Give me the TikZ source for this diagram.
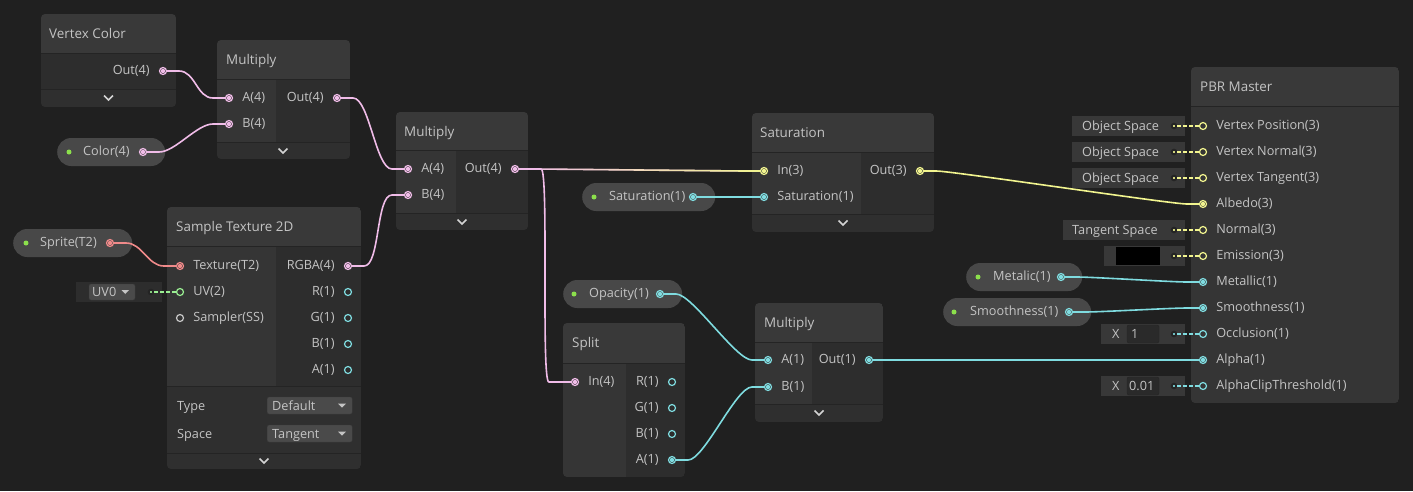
\documentclass[tikz,border=0pt]{standalone}
\usepackage{fontspec}
\setmainfont{Open Sans}
\usetikzlibrary{positioning,fadings}
\definecolor{bg}{HTML}{202020}
\definecolor{hdr}{HTML}{393939}
\definecolor{incol}{HTML}{353535}
\definecolor{outcol}{HTML}{2D2D2D}
\definecolor{foot}{HTML}{2F2F2F}
\definecolor{sepc}{HTML}{242424}
\definecolor{pillc}{HTML}{484848}
\definecolor{boxc}{HTML}{383838}
\definecolor{dropc}{HTML}{4A4A4A}
\definecolor{fieldc}{HTML}{2A2A2A}
\definecolor{txt}{HTML}{C4C4C4}
\definecolor{chevc}{HTML}{D4D4D4}
\definecolor{pinkW}{HTML}{F0BCE8}
\definecolor{yellowW}{HTML}{F2F58F}
\definecolor{cyanW}{HTML}{7FDCE0}
\definecolor{salW}{HTML}{F08A8A}
\definecolor{greenW}{HTML}{9AEF92}
\definecolor{grayW}{HTML}{C8C8C8}
\definecolor{propdot}{HTML}{8CE04C}
\tikzfading[name=fadein, left color=transparent!100, right color=transparent!0]

\begin{document}
\begin{tikzpicture}[x=1pt,y=-1pt,
  hdrtext/.style={text=txt,font=\fontsize{13.4}{16}\selectfont,inner sep=0pt,anchor=base west},
  lbl/.style={text=txt,font=\fontsize{12.7}{15}\selectfont,inner sep=0pt},
  label distance=9pt,
  port/.style={circle,draw=#1,line width=1.2pt,inner sep=0pt,minimum size=7pt},
  cport/.style={port=#1,path picture={\fill[#1] (path picture bounding box.center) circle (2.2pt);}},
  pill/.style={fill=pillc,rounded corners=14pt,inner sep=0pt,minimum height=28pt,anchor=west},
  pdot/.style={circle,fill=propdot,inner sep=0pt,minimum size=5pt},
  wire/.style={line width=1.6pt,to path={-- ++(12,0) .. controls +(16,0) and +(-16,0) .. ([xshift=-12pt]\tikztotarget) -- (\tikztotarget)}},
  vwire/.style={line width=1.6pt,to path={-- ++(22,0) .. controls +(8,0) and +(-8,0) .. ([xshift=-22pt]\tikztotarget) -- (\tikztotarget)}},
  chev/.style={draw=chevc,line width=1.5pt},
  divider/.style={draw=sepc,line width=1pt},
  vbox/.style={fill=boxc,inner sep=0pt,minimum height=20pt,anchor=west},
  vdot/.style={circle,fill=#1,draw=sepc,line width=2pt,inner sep=0pt,minimum size=4.5pt},
  vlink/.style={draw=#1,line width=1.2pt,dash pattern=on 4pt off 2pt},
  dropbox/.style={fill=dropc,draw=dropc!80!black,rounded corners=2pt,inner sep=0pt},
  fieldbox/.style={fill=fieldc,draw=sepc,rounded corners=2pt,inner sep=0pt,minimum width=32pt,minimum height=18pt},
]
\fill[bg] (0,0) rectangle (1413,491);
\useasboundingbox (0,0) rectangle (1413,491);

% Vertex Color
\begin{scope}
\clip[rounded corners=4pt] (41,14) rectangle (176,107);
\fill[hdr] (41,14) rectangle (176,53);
\fill[outcol] (41,53) rectangle (176,89);
\fill[foot] (41,89) rectangle (176,107);
\draw[divider] (41,53) -- (176,53) (41,89) -- (176,89);
\end{scope}
\node[hdrtext] (vctitle) at (49,38.5) {Vertex Color};
\node[cport=pinkW,label={[lbl]left:Out(4)}] (vcout) at (163,71) {};
\draw[chev] (104,95.5) -- (108.5,100) -- (113,95.5);

% Multiply 1
\begin{scope}
\clip[rounded corners=4pt] (217,40) rectangle (350,159);
\fill[hdr] (217,40) rectangle (350,79);
\fill[incol] (217,79) rectangle (276,142);
\fill[outcol] (276,79) rectangle (350,142);
\fill[foot] (217,142) rectangle (350,159);
\draw[divider] (217,79) -- (350,79) (217,142) -- (350,142);
\end{scope}
\node[hdrtext] (m1title) at (226,64.5) {Multiply};
\node[cport=pinkW,label={[lbl]right:A(4)}] (m1a) at (229,98) {};
\node[cport=pinkW,label={[lbl]right:B(4)}] (m1b) at (229,124) {};
\node[cport=pinkW,label={[lbl]left:Out(4)}] (m1out) at (337,98) {};
\draw[chev] (278.5,148.5) -- (283,153) -- (287.5,148.5);

% Color property
\node[pill,minimum width=108pt] (colorpill) at (57,152) {};
\node[pdot] (colordot) at (69,152) {};
\node[lbl,anchor=west] (colortxt) at (83,152) {Color(4)};
\node[cport=pinkW] (colorp) at (143,152) {};

% Multiply 2
\begin{scope}
\clip[rounded corners=4pt] (396,112) rectangle (528,230);
\fill[hdr] (396,112) rectangle (528,150);
\fill[incol] (396,150) rectangle (456,213);
\fill[outcol] (456,150) rectangle (528,213);
\fill[foot] (396,213) rectangle (528,230);
\draw[divider] (396,150) -- (528,150) (396,213) -- (528,213);
\end{scope}
\node[hdrtext] (m2title) at (404,136.5) {Multiply};
\node[cport=pinkW,label={[lbl]right:A(4)}] (m2a) at (408,169) {};
\node[cport=pinkW,label={[lbl]right:B(4)}] (m2b) at (408,195) {};
\node[cport=pinkW,label={[lbl]left:Out(4)}] (m2out) at (515,169) {};
\draw[chev] (457.5,219.5) -- (462,224) -- (466.5,219.5);

% Sample Texture 2D
\begin{scope}
\clip[rounded corners=4pt] (167,207) rectangle (361,469);
\fill[hdr] (167,207) rectangle (361,246);
\fill[incol] (167,246) rectangle (276,386);
\fill[outcol] (276,246) rectangle (361,386);
\fill[foot] (167,386) rectangle (361,469);
\draw[divider] (167,246) -- (361,246) (167,386) -- (361,386) (167,453) -- (361,453);
\end{scope}
\node[hdrtext] (sttitle) at (176,231.5) {Sample Texture 2D};
\node[cport=salW,label={[lbl]right:Texture(T2)}] (sttex) at (180,266) {};
\node[port=greenW,label={[lbl]right:UV(2)}] (stuv) at (180,292) {};
\node[port=grayW,label={[lbl]right:Sampler(SS)}] (stss) at (180,318) {};
\node[cport=pinkW,label={[lbl]left:RGBA(4)}] (strgba) at (348,266) {};
\node[port=cyanW,label={[lbl]left:R(1)}] (str) at (348,292) {};
\node[port=cyanW,label={[lbl]left:G(1)}] (stg) at (348,318) {};
\node[port=cyanW,label={[lbl]left:B(1)}] (stb) at (348,344) {};
\node[port=cyanW,label={[lbl]left:A(1)}] (sta) at (348,370) {};
\node[lbl,anchor=base west] (sttype) at (177,410) {Type};
\node[dropbox,minimum width=85pt,minimum height=17pt,anchor=west] (sttypedd) at (267,405.5) {};
\node[lbl,anchor=base west] (sttypeval) at (272,410) {Default};
\fill[txt] (338,403.5) -- (346,403.5) -- (342,407.5) -- cycle;
\node[lbl,anchor=base west] (stspace) at (177,438) {Space};
\node[dropbox,minimum width=85pt,minimum height=17pt,anchor=west] (stspacedd) at (267,433.5) {};
\node[lbl,anchor=base west] (stspaceval) at (272,438) {Tangent};
\fill[txt] (338,431.5) -- (346,431.5) -- (342,435.5) -- cycle;
\draw[chev] (259.5,458.5) -- (264,463) -- (268.5,458.5);

% Sprite property and UV default
\node[pill,minimum width=119pt] (spritepill) at (13,243) {};
\node[pdot] (spritedot) at (26,243) {};
\node[lbl,anchor=west] (spritetxt) at (40,243) {Sprite(T2)};
\node[cport=salW] (spritep) at (110,243) {};
\node[fill=outcol,inner sep=0pt,minimum width=86pt,minimum height=20pt,anchor=west] (uvbox) at (76,292) {};
\node[dropbox,minimum width=46pt,minimum height=16pt] (uvdd) at (112,292) {};
\node[lbl,anchor=base west] (uvtxt) at (92,296.5) {UV0};
\fill[txt] (121.5,290) -- (129,290) -- (125.25,294) -- cycle;
\node[vdot=greenW] (uvdot) at (151,292) {};

% Saturation
\begin{scope}
\clip[rounded corners=4pt] (752,113) rectangle (934,232);
\fill[hdr] (752,113) rectangle (934,152);
\fill[incol] (752,152) rectangle (861,214);
\fill[outcol] (861,152) rectangle (934,214);
\fill[foot] (752,214) rectangle (934,232);
\draw[divider] (752,152) -- (934,152) (752,214) -- (934,214);
\end{scope}
\node[hdrtext] (sattitle) at (760,137.5) {Saturation};
\node[cport=yellowW,label={[lbl]right:In(3)}] (satin) at (764,171) {};
\node[cport=cyanW,label={[lbl]right:Saturation(1)}] (satsat) at (764,197) {};
\node[cport=yellowW,label={[lbl]left:Out(3)}] (satout) at (920,171) {};
\draw[chev] (838.5,220.5) -- (843,225) -- (847.5,220.5);

% Saturation property
\node[pill,minimum width=133pt] (satpill) at (582,197) {};
\node[pdot] (satdot) at (594,197) {};
\node[lbl,anchor=west] (sattxt) at (609,197) {Saturation(1)};
\node[cport=cyanW] (satp) at (693,197) {};

% Opacity property
\node[pill,minimum width=119pt] (oppill) at (563,294) {};
\node[pdot] (opdot) at (574,294) {};
\node[lbl,anchor=west] (optxt) at (589,294) {Opacity(1)};
\node[cport=cyanW] (opp) at (660,294) {};

% Split
\begin{scope}
\clip[rounded corners=4pt] (563,323) rectangle (685,477);
\fill[hdr] (563,323) rectangle (685,363);
\fill[incol] (563,363) rectangle (626,477);
\fill[outcol] (626,363) rectangle (685,477);
\draw[divider] (563,363) -- (685,363);
\end{scope}
\node[hdrtext] (splittitle) at (572,347.5) {Split};
\node[cport=pinkW,label={[lbl]right:In(4)}] (splitin) at (575,382) {};
\node[port=cyanW,label={[lbl]left:R(1)}] (splitr) at (672,382) {};
\node[port=cyanW,label={[lbl]left:G(1)}] (splitg) at (672,408) {};
\node[port=cyanW,label={[lbl]left:B(1)}] (splitb) at (672,434) {};
\node[cport=cyanW,label={[lbl]left:A(1)}] (splita) at (672,460) {};

% Multiply 3
\begin{scope}
\clip[rounded corners=4pt] (755,303) rectangle (883,422);
\fill[hdr] (755,303) rectangle (883,342);
\fill[incol] (755,342) rectangle (812,404);
\fill[outcol] (812,342) rectangle (883,404);
\fill[foot] (755,404) rectangle (883,422);
\draw[divider] (755,342) -- (883,342) (755,404) -- (883,404);
\end{scope}
\node[hdrtext] (m3title) at (764,327.5) {Multiply};
\node[cport=cyanW,label={[lbl]right:A(1)}] (m3a) at (768,360) {};
\node[cport=cyanW,label={[lbl]right:B(1)}] (m3b) at (768,387) {};
\node[cport=cyanW,label={[lbl]left:Out(1)}] (m3out) at (869,360) {};
\draw[chev] (814.5,410.5) -- (819,415) -- (823.5,410.5);

% PBR Master
\begin{scope}
\clip[rounded corners=4pt] (1191,67) rectangle (1399,403);
\fill[hdr] (1191,67) rectangle (1399,106);
\fill[incol] (1191,106) rectangle (1399,403);
\draw[divider] (1191,106) -- (1399,106);
\end{scope}
\node[hdrtext] (pbrtitle) at (1200,91.5) {PBR Master};
\node[port=yellowW,label={[lbl]right:Vertex Position(3)}] (pbrvp) at (1203,126) {};
\node[port=yellowW,label={[lbl]right:Vertex Normal(3)}] (pbrvn) at (1203,152) {};
\node[port=yellowW,label={[lbl]right:Vertex Tangent(3)}] (pbrvt) at (1203,178) {};
\node[cport=yellowW,label={[lbl]right:Albedo(3)}] (pbralb) at (1203,204) {};
\node[port=yellowW,label={[lbl]right:Normal(3)}] (pbrnrm) at (1203,230) {};
\node[port=yellowW,label={[lbl]right:Emission(3)}] (pbrem) at (1203,256) {};
\node[cport=cyanW,label={[lbl]right:Metallic(1)}] (pbrmet) at (1203,282) {};
\node[cport=cyanW,label={[lbl]right:Smoothness(1)}] (pbrsm) at (1203,308) {};
\node[port=cyanW,label={[lbl]right:Occlusion(1)}] (pbrocc) at (1203,334) {};
\node[cport=cyanW,label={[lbl]right:Alpha(1)}] (pbralpha) at (1203,360) {};
\node[port=cyanW,label={[lbl]right:AlphaClipThreshold(1)}] (pbrclip) at (1203,386) {};

% default values of PBR Master
\node[vbox,minimum width=113pt] (vpbox) at (1072,126) {};
\node[lbl,anchor=base west] (vptxt) at (1082,130.5) {Object Space};
\node[vdot=yellowW] (vpdot) at (1174,126) {};
\node[vbox,minimum width=113pt] (vnbox) at (1072,152) {};
\node[lbl,anchor=base west] (vntxt) at (1082,156.5) {Object Space};
\node[vdot=yellowW] (vndot) at (1174,152) {};
\node[vbox,minimum width=113pt] (vtbox) at (1072,178) {};
\node[lbl,anchor=base west] (vttxt) at (1082,182.5) {Object Space};
\node[vdot=yellowW] (vtdot) at (1174,178) {};
\node[vbox,minimum width=122pt] (nrmbox) at (1063,230) {};
\node[lbl,anchor=base west] (nrmtxt) at (1072,234.5) {Tangent Space};
\node[vdot=yellowW] (nrmdot) at (1174,230) {};
\node[vbox,minimum width=81pt] (embox) at (1104,256) {};
\node[fill=black,inner sep=0pt,minimum width=44pt,minimum height=18pt] (emswatch) at (1138,256) {};
\node[vdot=yellowW] (emdot) at (1174,256) {};
\node[vbox,minimum width=84pt] (occbox) at (1101,334) {};
\node[lbl,anchor=base west] (occx) at (1112,338.5) {X};
\node[fieldbox] (occfield) at (1143,334) {};
\node[lbl,anchor=base west] (occval) at (1131,338.5) {1};
\node[vdot=cyanW] (occdot) at (1174,334) {};
\node[vbox,minimum width=84pt] (clipbox) at (1101,386) {};
\node[lbl,anchor=base west] (clipx) at (1112,390.5) {X};
\node[fieldbox] (clipfield) at (1143,386) {};
\node[lbl,anchor=base west] (clipval) at (1129,390.5) {0.01};
\node[vdot=cyanW] (clipdot) at (1174,386) {};

% Metalic and Smoothness properties
\node[pill,minimum width=116pt] (metpill) at (966,277) {};
\node[pdot] (metdot) at (978,277) {};
\node[lbl,anchor=west] (mettxt) at (993,277) {Metalic(1)};
\node[cport=cyanW] (metp) at (1061,277) {};
\node[pill,minimum width=148pt] (smpill) at (943,312) {};
\node[pdot] (smdot) at (954,312) {};
\node[lbl,anchor=west] (smtxt) at (970,312) {Smoothness(1)};
\node[cport=cyanW] (smp) at (1069,312) {};

% connections
\draw[wire,pinkW] (vcout.east) to (m1a.west);
\draw[wire,pinkW] (colorp.east) to (m1b.west);
\draw[wire,pinkW] (m1out.east) to (m2a.west);
\draw[wire,pinkW] (strgba.east) to (m2b.west);
\draw[wire,salW] (spritep.east) to (sttex.west);
\draw[vlink=greenW] (uvdot) -- (stuv.west);
\draw[wire,pinkW] (m2out.east) to (satin.west);
\draw[wire,yellowW,path fading=fadein] (m2out.east) to (satin.west);
\draw[vwire,pinkW] (m2out.east) to (splitin.west);
\draw[wire,cyanW] (satp.east) to (satsat.west);
\draw[wire,yellowW] (satout.east) to (pbralb.west);
\draw[wire,cyanW] (opp.east) to (m3a.west);
\draw[wire,cyanW] (splita.east) to (m3b.west);
\draw[wire,cyanW] (m3out.east) to (pbralpha.west);
\draw[wire,cyanW] (metp.east) to (pbrmet.west);
\draw[wire,cyanW] (smp.east) to (pbrsm.west);
\draw[vlink=yellowW] (vpdot) -- (pbrvp.west);
\draw[vlink=yellowW] (vndot) -- (pbrvn.west);
\draw[vlink=yellowW] (vtdot) -- (pbrvt.west);
\draw[vlink=yellowW] (nrmdot) -- (pbrnrm.west);
\draw[vlink=yellowW] (emdot) -- (pbrem.west);
\draw[vlink=cyanW] (occdot) -- (pbrocc.west);
\draw[vlink=cyanW] (clipdot) -- (pbrclip.west);
\end{tikzpicture}
\end{document}
